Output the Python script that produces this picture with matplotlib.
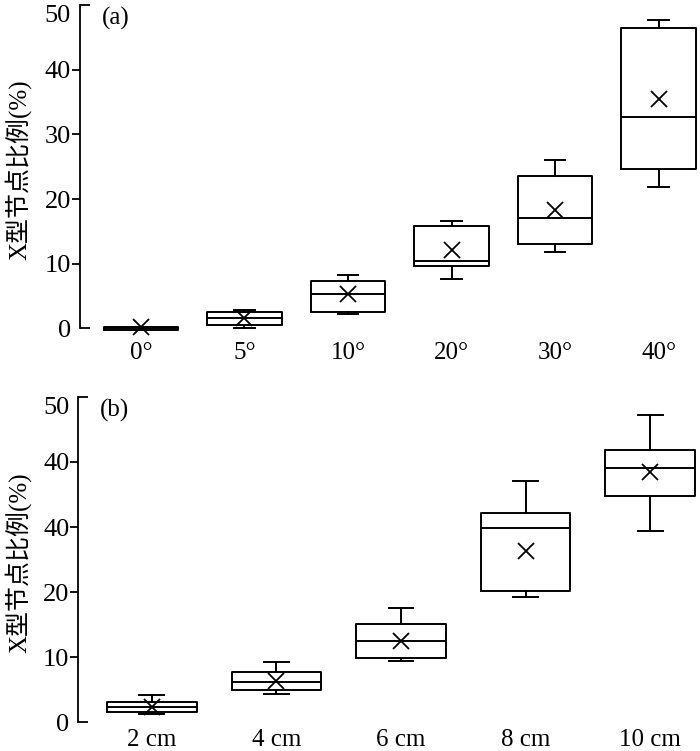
import matplotlib
matplotlib.use("Agg")
import matplotlib.pyplot as plt

plt.rcParams['font.family'] = ['Liberation Serif', 'Noto Sans CJK SC', 'DejaVu Sans']

# (a) slope angle
angles = ['0°', '5°', '10°', '20°', '30°', '40°']
a_whislo = [-0.3, 0.0, 2.3, 7.6, 11.8, 21.8]
a_q1 = [-0.3, 0.6, 2.5, 9.6, 13.0, 24.6]
a_med = [0.0, 1.6, 5.3, 10.4, 17.0, 32.7]
a_q3 = [0.2, 2.55, 7.3, 15.8, 23.5, 46.4]
a_whishi = [0.2, 2.8, 8.2, 16.6, 26.0, 47.7]
a_mean = [0.3, 1.6, 5.3, 12.1, 18.3, 35.4]

# (b) spacing
spacings = ['2 cm', '4 cm', '6 cm', '8 cm', '10 cm']
b_whislo = [1.3, 4.3, 9.4, 19.3, 29.4]
b_q1 = [1.65, 4.9, 9.9, 20.2, 34.7]
b_med = [2.4, 6.2, 12.5, 29.9, 39.1]
b_q3 = [3.1, 7.7, 15.1, 32.1, 41.9]
b_whishi = [4.2, 9.2, 17.6, 37.0, 47.2]
b_mean = [2.4, 6.4, 12.5, 26.3, 38.4]

a_ytick_labels = ['0', '10', '20', '30', '40', '50']
b_ytick_labels = ['0', '10', '20', '40', '40', '50']

ylabel = 'X型节点比例(%)'


def make_stats(lo, q1, med, q3, hi, mean):
    return [dict(whislo=a, q1=b, med=c, q3=d, whishi=e, mean=f, fliers=[])
            for a, b, c, d, e, f in zip(lo, q1, med, q3, hi, mean)]


def draw(ax, stats, labels, tag, ylabels, pad, labx):
    lw = 1.4
    ax.bxp(stats, positions=range(len(stats)), widths=0.72, showmeans=True,
           showfliers=False, capwidths=0.2,
           boxprops=dict(color='black', linewidth=lw),
           medianprops=dict(color='black', linewidth=lw),
           whiskerprops=dict(color='black', linewidth=lw),
           capprops=dict(color='black', linewidth=lw),
           meanprops=dict(marker='x', markeredgecolor='black', markersize=11,
                          markeredgewidth=1.3))
    ax.set_xlim(-0.59, len(stats) - 1 + 0.4)
    ax.set_ylim(-1, 50)
    for s in ['top', 'right', 'bottom']:
        ax.spines[s].set_visible(False)
    ax.spines['left'].set_bounds(0, 50)
    ax.spines['left'].set_linewidth(1.3)
    ax.set_xticks(range(len(stats)))
    ax.set_xticklabels(labels, fontsize=18)
    ax.tick_params(axis='x', length=0, pad=pad)
    ax.set_yticks([10, 20, 30, 40])
    ax.set_yticklabels(ylabels[1:5])
    ax.set_yticks([0, 50], minor=True)
    ax.set_yticklabels([ylabels[0], ylabels[5]], minor=True)
    ax.tick_params(axis='y', which='major', direction='out', length=6,
                   width=1.3, labelsize=19, pad=0.5)
    ax.tick_params(axis='y', which='minor', direction='in', length=7,
                   width=1.3, labelsize=19, pad=6.5)
    ax.get_yticklabels(minor=True)[1].set_va('top')
    ax.set_ylabel(ylabel, fontsize=18)
    ax.yaxis.set_label_coords(labx, 0.5)
    ax.text(0.035, 0.995, tag, transform=ax.transAxes, va='top', ha='left',
            fontsize=18)


fig = plt.figure(figsize=(7, 7.51), dpi=100)
ax1 = fig.add_axes([0.114, 0.554, 0.886, 0.4394])
ax2 = fig.add_axes([0.112, 0.0296, 0.888, 0.442])

draw(ax1, make_stats(a_whislo, a_q1, a_med, a_q3, a_whishi, a_mean),
     angles, '(a)', a_ytick_labels, 5, -0.078)
draw(ax2, make_stats(b_whislo, b_q1, b_med, b_q3, b_whishi, b_mean),
     spacings, '(b)', b_ytick_labels, 0.5, -0.075)

fig.savefig('out.png', dpi=100)
